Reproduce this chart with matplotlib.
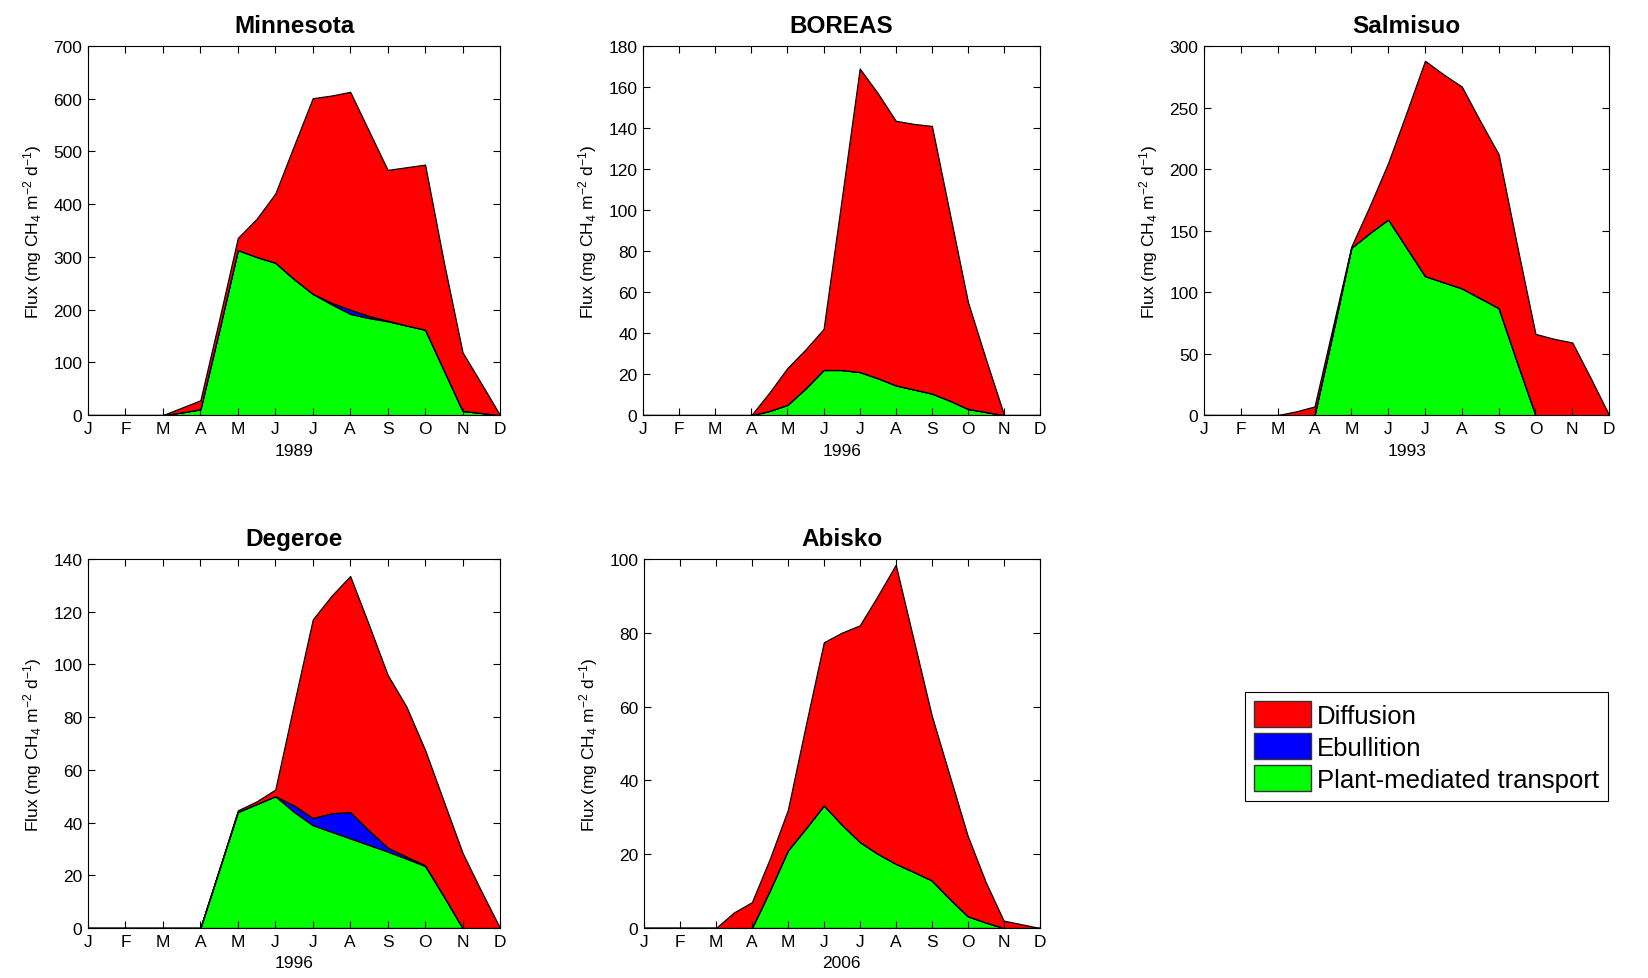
from matplotlib import pyplot as plt
from matplotlib.patches import Patch
import numpy as np

plt.rcParams['font.family'] = ['Liberation Sans', 'DejaVu Sans']
plt.rcParams['mathtext.default'] = 'regular'

# half-month steps from J (1) to D (12)
t = [1, 1.5, 2, 2.5, 3, 3.5, 4, 4.5, 5, 5.5, 6, 6.5,
     7, 7.5, 8, 8.5, 9, 9.5, 10, 10.5, 11, 11.5, 12]
months = ['J', 'F', 'M', 'A', 'M', 'J', 'J', 'A', 'S', 'O', 'N', 'D']

sites = ['Minnesota', 'BOREAS', 'Salmisuo', 'Degeroe', 'Abisko']
years = ['1989', '1996', '1993', '1996', '2006']
ymax = [700, 180, 300, 140, 100]
ystep = [100, 20, 50, 20, 20]

# plant-mediated transport
plant_mn = [0, 0, 0, 0, 0, 5, 11, 160, 313, 300, 289, 258, 230, 210, 192, 184, 178, 170, 162, 85, 8, 4, 0]
plant_bo = [0, 0, 0, 0, 0, 0, 0, 2, 5, 13, 22, 22, 21, 18, 14.5, 12.5, 10.5, 7, 3, 1.5, 0, 0, 0]
plant_sa = [0, 0, 0, 0, 0, 0, 0, 67, 136, 148, 159, 136, 113, 108, 103, 95, 87, 43, 0, 0, 0, 0, 0]
plant_de = [0, 0, 0, 0, 0, 0, 0, 22, 44, 47, 50, 44, 39, 36.5, 34, 31.5, 29, 26.3, 23.5, 12, 0, 0, 0]
plant_ab = [0, 0, 0, 0, 0, 0, 0, 10.2, 21, 27, 33.2, 28, 23.3, 20.1, 17.4, 15.2, 12.9, 7.9, 3.2, 1.5, 0, 0, 0]

# ebullition
ebul_mn = [0, 0, 0, 0, 0, 0, 0, 0, 0, 0, 0, 0, 0, 3, 8, 4, 1, 0, 0, 0, 0, 0, 0]
ebul_bo = [0] * 23
ebul_sa = [0] * 23
ebul_de = [0, 0, 0, 0, 0, 0, 0, 0, 0, 0, 0, 2.5, 2.7, 7, 10, 5.5, 1.5, 0.8, 0.3, 0, 0, 0, 0]
ebul_ab = [0] * 23

# diffusion
diff_mn = [0, 0, 0, 0, 0, 9, 17, 20, 23, 72, 131, 253, 371, 393, 413, 351, 286, 300, 313, 205, 111, 56, 0]
diff_bo = [0, 0, 0, 0, 0, 0, 0, 9, 18, 19, 20, 83, 148, 139, 129, 129.5, 130.5, 91, 52, 25.5, 0, 0, 0]
diff_sa = [0, 0, 0, 0, 0, 3, 7, 5, 1, 22, 46, 110, 175, 169, 164, 144, 125, 95, 66, 62, 59, 30, 0]
diff_de = [0, 0, 0, 0, 0, 0, 0, 0, 0.6, 1, 2.5, 38.5, 75.3, 82.5, 89.5, 78, 65.5, 56.9, 43.7, 36, 28.5, 14, 0]
diff_ab = [0, 0, 0, 0, 0, 4.2, 7, 8.6, 11, 28, 44.2, 52, 58.7, 69.9, 81, 62.8, 44.7, 33.4, 21.8, 11, 2, 1, 0]

plant = [plant_mn, plant_bo, plant_sa, plant_de, plant_ab]
ebul = [ebul_mn, ebul_bo, ebul_sa, ebul_de, ebul_ab]
diff = [diff_mn, diff_bo, diff_sa, diff_de, diff_ab]

colors = ['#00ff00', '#0000ff', '#ff0000']

# axes boxes [left, bottom, width, height] in figure fractions
boxes = [[0.0534, 0.575, 0.250, 0.377],
         [0.3902, 0.575, 0.241, 0.377],
         [0.7306, 0.575, 0.2458, 0.377],
         [0.0534, 0.0511, 0.250, 0.377],
         [0.3908, 0.0511, 0.240, 0.377]]

fig = plt.figure(figsize=(16.48, 9.79), dpi=100)

for i in range(5):
    ax = fig.add_axes(boxes[i])
    ax.stackplot(t, plant[i], ebul[i], diff[i], colors=colors,
                 edgecolor='k', linewidth=0.9)
    ax.set_xlim(1, 12)
    ax.set_ylim(0, ymax[i])
    ax.set_xticks(np.arange(1, 13))
    ax.set_xticklabels(months)
    ax.set_yticks(np.arange(0, ymax[i] + 1, ystep[i]))
    ax.tick_params(direction='in', top=True, right=True, length=5,
                   width=0.8, labelsize=12.5, pad=4)
    for s in ax.spines.values():
        s.set_linewidth(0.8)
    ax.set_title(sites[i], fontsize=17.5, fontweight='bold', pad=10)
    ax.set_xlabel(years[i], fontsize=12.5, labelpad=5)
    ax.set_ylabel('Flux (mg CH$_4$ m$^{-2}$ d$^{-1}$)', fontsize=12.5, labelpad=7)

handles = [Patch(facecolor=colors[2], edgecolor='#333333', label='Diffusion'),
           Patch(facecolor=colors[1], edgecolor='#333333', label='Ebullition'),
           Patch(facecolor=colors[0], edgecolor='#333333', label='Plant-mediated transport')]
leg = fig.legend(handles=handles, loc='upper left', bbox_to_anchor=(0.7555, 0.292),
                 fontsize=18.5, fancybox=False, edgecolor='k', framealpha=1,
                 handlelength=2.2, handleheight=1.2, handletextpad=0.25,
                 labelspacing=0.2, borderpad=0.35, borderaxespad=0)
leg.get_frame().set_linewidth(0.8)

plt.savefig('out.png', dpi=100)
